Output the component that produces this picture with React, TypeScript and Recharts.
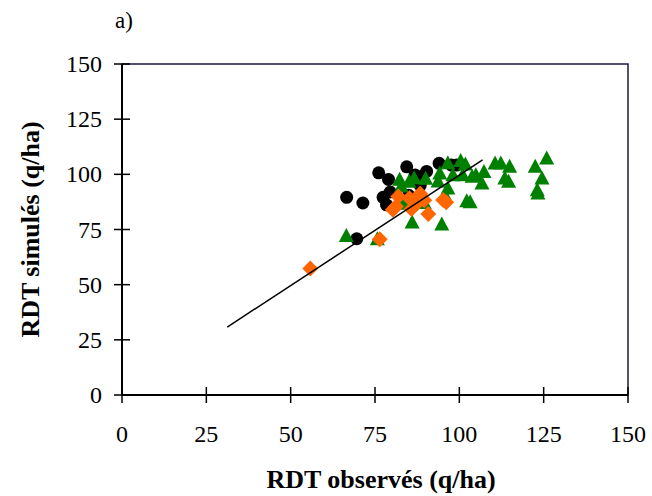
import React from "react";
import { ScatterChart, Scatter, XAxis, YAxis, ReferenceArea, Label } from "recharts";

// observed (x) vs simulated (y) yields, q/ha
const blackPts = [
  { x: 66.6, y: 89.6 }, { x: 71.4, y: 87.0 }, { x: 69.6, y: 70.8 }, { x: 76.1, y: 100.7 },
  { x: 79.0, y: 97.7 }, { x: 77.4, y: 89.6 }, { x: 79.5, y: 92.0 }, { x: 78.4, y: 86.2 },
  { x: 84.4, y: 103.4 }, { x: 85.0, y: 90.5 }, { x: 86.9, y: 99.7 }, { x: 88.4, y: 98.8 },
  { x: 90.3, y: 101.3 }, { x: 88.4, y: 95.0 }, { x: 94.0, y: 105.0 }, { x: 97.7, y: 104.2 },
  { x: 99.2, y: 104.2 },
];

const orangePts = [
  { x: 55.8, y: 57.3 }, { x: 76.4, y: 70.6 }, { x: 80.3, y: 84.0 }, { x: 81.9, y: 89.9 },
  { x: 81.2, y: 85.4 }, { x: 85.2, y: 89.2 }, { x: 85.8, y: 84.3 }, { x: 87.4, y: 86.8 },
  { x: 88.4, y: 91.2 }, { x: 89.6, y: 88.3 }, { x: 90.8, y: 82.0 }, { x: 95.2, y: 88.4 },
  { x: 96.1, y: 87.4 },
];

const greenPts = [
  { x: 66.5, y: 72.0 }, { x: 75.7, y: 70.6 }, { x: 82.3, y: 97.5 }, { x: 82.8, y: 94.5 },
  { x: 85.1, y: 96.6 }, { x: 86.0, y: 78.2 }, { x: 83.4, y: 86.7 }, { x: 94.8, y: 77.3 },
  { x: 89.6, y: 87.0 }, { x: 93.7, y: 96.8 }, { x: 94.2, y: 100.4 }, { x: 96.6, y: 105.0 },
  { x: 96.6, y: 93.6 }, { x: 95.9, y: 90.0 }, { x: 100.4, y: 106.0 }, { x: 101.8, y: 104.4 },
  { x: 98.1, y: 99.6 }, { x: 101.0, y: 99.6 }, { x: 102.2, y: 87.8 }, { x: 103.2, y: 87.4 },
  { x: 103.8, y: 98.9 }, { x: 104.9, y: 99.6 }, { x: 106.7, y: 95.8 }, { x: 107.3, y: 101.1 },
  { x: 110.6, y: 104.9 }, { x: 112.3, y: 104.9 }, { x: 113.5, y: 98.1 }, { x: 114.6, y: 96.6 },
  { x: 114.9, y: 103.4 }, { x: 122.5, y: 103.4 }, { x: 123.1, y: 92.8 }, { x: 123.3, y: 91.3 },
  { x: 124.5, y: 98.1 }, { x: 125.9, y: 107.2 }, { x: 86.6, y: 98.2 }, { x: 90.0, y: 98.0 },
];

const fitLine = [{ x: 31.2, y: 30.8 }, { x: 106.9, y: 106.5 }];

const ticks = [0, 25, 50, 75, 100, 125, 150];

const FONT = "'Liberation Serif', 'Times New Roman', serif";

const YTick = ({ x, y, payload }: any) => {
  const ax = x + 20;
  return (
    <g>
      <line x1={ax - 8} x2={ax + 8} y1={y} y2={y} stroke="#000" strokeWidth={1.5} />
      <text x={x} y={y} textAnchor="end" dominantBaseline="central" fontFamily={FONT} fontSize={24} fill="#000">{payload.value}</text>
    </g>
  );
};

const XTick = ({ x, y, payload }: any) => {
  const ay = y - 39;
  return (
    <g>
      <line x1={x} x2={x} y1={ay - 8} y2={ay + 8} stroke="#000" strokeWidth={1.5} />
      <text x={x} y={y} textAnchor="middle" dominantBaseline="central" fontFamily={FONT} fontSize={24} fill="#000">{payload.value}</text>
    </g>
  );
};

const Dot = ({ cx, cy }: any) => <circle cx={cx} cy={cy} r={6.5} fill="#000" />;
const Diamond = ({ cx, cy }: any) => (
  <path d={`M${cx},${cy - 8}L${cx + 8},${cy}L${cx},${cy + 8}L${cx - 8},${cy}Z`} fill="#FF6600" />
);
const Tri = ({ cx, cy }: any) => (
  <path d={`M${cx},${cy - 8}L${cx + 7.5},${cy + 6}L${cx - 7.5},${cy + 6}Z`} fill="#008000" />
);

const YTitle = ({ viewBox }: any) => {
  const cx = viewBox.x + 30;
  const cy = viewBox.y + viewBox.height / 2;
  return (
    <text x={cx} y={cy} transform={`rotate(-90 ${cx} ${cy})`} textAnchor="middle" dominantBaseline="central"
      fontFamily={FONT} fontSize={26} fontWeight="bold" fill="#000">RDT simulés (q/ha)</text>
  );
};

const XTitle = ({ viewBox }: any) => (
  <text x={viewBox.x + viewBox.width / 2 + 6} y={viewBox.y + viewBox.height - 8} textAnchor="middle"
    fontFamily={FONT} fontSize={26} fontWeight="bold" fill="#000">RDT observés (q/ha)</text>
);

export default function App() {
  return (
    <div style={{ position: "absolute", left: 0, top: 0, width: 652, height: 496, background: "#fff" }}>
      <div style={{ position: "absolute", left: 115, top: 8, fontFamily: FONT, fontSize: 23, color: "#000" }}>a)</div>
      <ScatterChart width={652} height={496} margin={{ top: 64, right: 24, bottom: 0, left: 0 }}>
        <XAxis type="number" dataKey="x" domain={[0, 150]} ticks={ticks} height={101}
          axisLine={{ stroke: "#000", strokeWidth: 2 }} tickLine={false} tickSize={8} tickMargin={31}
          tick={<XTick />} interval={0} allowDataOverflow>
          <Label content={<XTitle />} />
        </XAxis>
        <YAxis type="number" dataKey="y" domain={[0, 150]} ticks={ticks} width={122}
          axisLine={{ stroke: "#000", strokeWidth: 2 }} tickLine={false} tickSize={8} tickMargin={12}
          tick={<YTick />} interval={0} allowDataOverflow>
          <Label content={<YTitle />} />
        </YAxis>
        <ReferenceArea x1={0} x2={150} y1={0} y2={150} fill="none" stroke="#1a1a40" strokeWidth={1.5} />
        <Scatter data={blackPts} shape={<Dot />} isAnimationActive={false} />
        <Scatter data={greenPts} shape={<Tri />} isAnimationActive={false} />
        <Scatter data={orangePts} shape={<Diamond />} isAnimationActive={false} />
        <Scatter data={fitLine} line={{ stroke: "#000", strokeWidth: 1.5 }} shape={() => <g />} isAnimationActive={false} />
      </ScatterChart>
    </div>
  );
}
